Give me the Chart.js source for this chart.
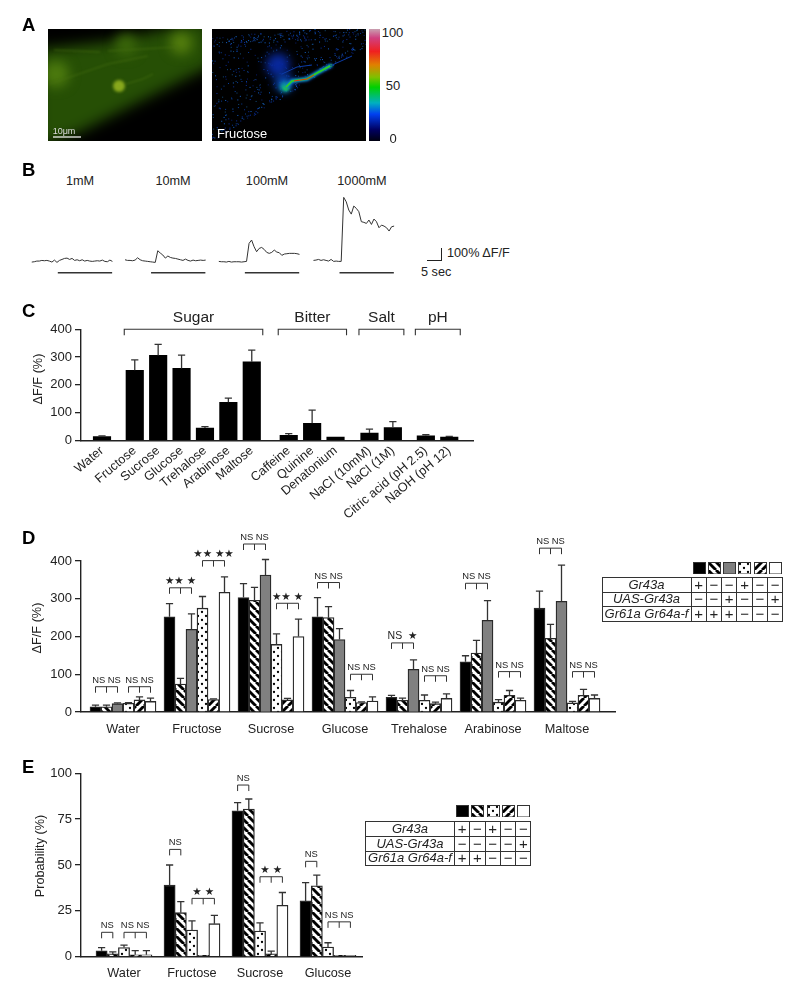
<!DOCTYPE html>
<html>
<head>
<meta charset="utf-8">
<script src="https://cdn.jsdelivr.net/npm/chart.js@4"></script>
<style>
    html, body { margin: 0; padding: 0; background: #fff; }
    #page { position: relative; width: 800px; height: 990px; overflow: hidden; font-family: "Liberation Sans", Arial, sans-serif; color: #222; }
    #page canvas { position: absolute; }
    .label { position: absolute; white-space: nowrap; transform: translate(-50%, -50%); }
    .letter { position: absolute; font-weight: bold; font-size: 18.5px; line-height: 18px; color: #000; }
    table { position: absolute; border-collapse: collapse; table-layout: fixed; }
    td { box-sizing: border-box; border: 1.4px solid #333; padding: 0; text-align: center; font-size: 15px; line-height: 12px; }
    td.name { font-style: italic; font-size: 13px; }
</style>
</head>
<body>
<div id="page"></div>
<script>
// Panel B traces (dF/F %, one sample every 0.9 sec)
const concentrations = ["1mM", "10mM", "100mM", "1000mM"]
const trace1mM = [-3, 0, 6, 6, 12, 9, 12, 6, -3, 15, -6, 12, 21, 30, 33, 21, 30, 12, 18, 9, 18, 6, 12, 6, 3, 6, 9, 6, 15, 3, 0, 15, 3]
const trace10mM = [18, 12, 12, 9, 15, 36, 18, 9, 6, 3, 0, -3, -6, 100, 79, 61, 33, 52, 39, 33, 30, 24, 18, 12, 24, 12, 6, 15, 9, 12, 15, 12, 15]
const trace100mM = [3, 0, 0, -3, 3, -3, 0, 0, 0, -3, 0, 3, 167, 197, 136, 91, 121, 130, 112, 85, 76, 85, 106, 88, 82, 58, 70, 73, 76, 76, 76, 73, 67]
const trace1000mM = [12, 15, 21, 12, 18, 12, 6, 21, 3, 6, 3, 3, 585, 545, 470, 433, 506, 485, 455, 364, 358, 348, 379, 339, 388, 364, 309, 333, 324, 309, 279, 318, 324]

// Panel C
const cCategories = ["Water", "Fructose", "Sucrose", "Glucose", "Trehalose", "Arabinose", "Maltose", "Caffeine", "Quinine", "Denatonium", "NaCl (10mM)", "NaCl (1M)", "Citric acid (pH 2.5)", "NaOH (pH 12)"]
const cValues = [13, 252, 306, 259, 44, 137, 283, 18, 61, 12, 26, 46, 16, 12]
const cUpper = [16, 290, 346, 307, 49, 152, 325, 24, 109, 13, 40, 67, 20, 14]
const cGroupNames = ["Sugar", "Bitter", "Salt", "pH"]
const cGroupFirst = [1, 7, 10, 12]
const cGroupLast = [6, 9, 11, 13]

// Panel D
const dCategories = ["Water", "Fructose", "Sucrose", "Glucose", "Trehalose", "Arabinose", "Maltose"]
const dValues = [
    [14, 252, 303, 252, 39, 133, 275],
    [14, 74, 296, 250, 31, 156, 195],
    [22, 219, 363, 192, 113, 243, 293],
    [23, 275, 179, 39, 31, 26, 24],
    [32, 33, 32, 25, 22, 44, 44],
    [28, 317, 200, 29, 36, 31, 36]
]
const dUpper = [
    [18, 287, 340, 303, 44, 149, 320],
    [18, 89, 330, 279, 37, 190, 232],
    [24, 260, 404, 221, 138, 295, 389],
    [25, 306, 207, 57, 45, 33, 28],
    [40, 35, 36, 27, 26, 57, 60],
    [37, 358, 246, 40, 48, 37, 45]
]
// category, first bar, last bar, height, label
const dBrackets = [
    [0, 0, 2, 67, "NS NS"], [0, 3, 5, 67, "NS NS"],
    [1, 0, 2, 329, "★★ ★"], [1, 3, 5, 401, "★★ ★★"],
    [2, 0, 2, 445, "NS NS"], [2, 3, 5, 288, "★★ ★"],
    [3, 0, 2, 343, "NS NS"], [3, 3, 5, 100, "NS NS"],
    [4, 0, 2, 183, "NS  ★"], [4, 3, 5, 96, "NS NS"],
    [5, 0, 2, 341, "NS NS"], [5, 3, 5, 107, "NS NS"],
    [6, 0, 2, 434, "NS NS"], [6, 3, 5, 107, "NS NS"]
]
const dRowNames = ["Gr43a", "UAS-Gr43a", "Gr61a Gr64a-f"]
const dRows = [
    ["+", "−", "−", "+", "−", "−"],
    ["−", "−", "+", "−", "−", "+"],
    ["+", "+", "+", "−", "−", "−"]
]

// Panel E
const eCategories = ["Water", "Fructose", "Sucrose", "Glucose"]
const eValues = [
    [3.2, 39, 79.6, 30.4],
    [1.5, 24, 80.5, 38.7],
    [5, 14.5, 14, 5.3],
    [1, 0.7, 1.5, 0.7],
    [1, 18, 28, 0.7]
]
const eUpper = [
    [5, 50, 84, 40.4],
    [2.6, 30, 86, 44.5],
    [6.3, 19.5, 18.4, 7.6],
    [3.3, 0.7, 3, 0.7],
    [3.3, 22.5, 35, 0.7]
]
const eBrackets = [
    [0, 0, 1, 13.3, "NS"], [0, 2, 4, 13.3, "NS NS"],
    [1, 0, 1, 58.5, "NS"], [1, 2, 4, 31.8, "★ ★"],
    [2, 0, 1, 93.6, "NS"], [2, 2, 4, 43.6, "★ ★"],
    [3, 0, 1, 52, "NS"], [3, 2, 4, 19, "NS NS"]
]
const eRowNames = ["Gr43a", "UAS-Gr43a", "Gr61a Gr64a-f"]
const eRows = [
    ["+", "−", "+", "−", "−"],
    ["−", "−", "−", "−", "+"],
    ["+", "+", "−", "−", "−"]
]

const page = document.getElementById("page")
const ink = "#222"
const fontFamily = '"Liberation Sans", Arial, sans-serif'
Chart.defaults.font.family = fontFamily
Chart.defaults.color = ink
Chart.defaults.animation = false

function addLabel(x, y, text, size, extra) {
    const el = document.createElement("div")
    el.className = "label"
    el.textContent = text
    el.style.left = x + "px"
    el.style.top = y + "px"
    el.style.fontSize = size + "px"
    if (extra) Object.assign(el.style, extra)
    page.appendChild(el)
    return el
}

function addLetter(text, y) {
    const el = document.createElement("div")
    el.className = "letter"
    el.textContent = text
    el.style.left = "22px"
    el.style.top = (y - 9) + "px"
    page.appendChild(el)
}

function addCanvas(left, top, width, height) {
    const canvas = document.createElement("canvas")
    canvas.width = width
    canvas.height = height
    canvas.style.left = left + "px"
    canvas.style.top = top + "px"
    page.appendChild(canvas)
    return canvas
}

// Bar fills
function tile(size, draw) {
    const c = document.createElement("canvas")
    c.width = c.height = size
    const g = c.getContext("2d")
    g.fillStyle = "#fff"
    g.fillRect(0, 0, size, size)
    draw(g)
    return document.createElement("canvas").getContext("2d").createPattern(c, "repeat")
}

function hatch(down) {
    return tile(8, (g) => {
        g.strokeStyle = "#000"
        g.lineWidth = 2.9
        for (let i = -8; i <= 8; i += 8) {
            g.beginPath()
            if (down) { g.moveTo(i, 0); g.lineTo(i + 8, 8) }
            else { g.moveTo(i, 8); g.lineTo(i + 8, 0) }
            g.stroke()
        }
    })
}

const stripeDown = hatch(true)
const stripeUp = hatch(false)
const dots = tile(8, (g) => {
    g.fillStyle = "#000"
    g.beginPath(); g.arc(2, 2, 1.15, 0, 7); g.fill()
    g.beginPath(); g.arc(6, 6, 1.15, 0, 7); g.fill()
})
const dFills = ["#000", stripeDown, "#808080", dots, stripeUp, "#fff"]
const eFills = ["#000", stripeDown, dots, stripeUp, "#fff"]

// Error bars, only the upper half like in the figure
const errorBars = {
    id: "errorBars",
    afterDatasetsDraw(chart) {
        const g = chart.ctx
        const y = chart.scales.y
        chart.data.datasets.forEach((set, d) => {
            chart.getDatasetMeta(d).data.forEach((bar, i) => {
                const top = y.getPixelForValue(set.upper[i])
                const base = y.getPixelForValue(set.data[i].y)
                if (base - top < 0.5) return
                g.strokeStyle = "#333"
                g.lineWidth = 1.3
                g.beginPath()
                g.moveTo(bar.x, base)
                g.lineTo(bar.x, top)
                g.moveTo(bar.x - 3.6, top)
                g.lineTo(bar.x + 3.6, top)
                g.stroke()
            })
        })
    }
}

// NS / star brackets over a few bars of one category
function bracketPlugin(list) {
    return {
        id: "brackets",
        afterDraw(chart) {
            const g = chart.ctx
            list.forEach(([cat, from, to, value, text]) => {
                const a = chart.getDatasetMeta(from).data[cat].x
                const b = chart.getDatasetMeta(to).data[cat].x
                const y = chart.scales.y.getPixelForValue(value)
                g.strokeStyle = "#333"
                g.lineWidth = 1
                g.beginPath()
                g.moveTo(a, y + 6); g.lineTo(a, y); g.lineTo(b, y); g.lineTo(b, y + 6)
                if (to - from == 2) {
                    g.moveTo((a + b) / 2, y); g.lineTo((a + b) / 2, y + 6)
                }
                g.stroke()
                g.fillStyle = ink
                g.textAlign = "center"
                g.textBaseline = "middle"
                const size = text.includes("★") ? 10.5 : 9.4
                g.font = size + 'px "Liberation Sans", "DejaVu Sans"'
                g.fillText(text, (a + b) / 2, y - 6.5)
            })
        }
    }
}

// Chart whose plot area lands on a fixed box of the page
function fixedBarChart(box, xs, names, datasets, yMax, yStep, extra) {
    const canvas = addCanvas(box.canvasLeft, box.canvasTop, box.canvasWidth, box.canvasHeight)
    const left = box.left - box.canvasLeft
    const top = box.top - box.canvasTop
    return new Chart(canvas, {
        type: "bar",
        data: { datasets: datasets },
        plugins: extra.plugins,
        options: {
            responsive: false,
            layout: { padding: { top: top, right: box.canvasWidth - (box.right - box.canvasLeft), left: 0, bottom: 0 } },
            plugins: { legend: { display: false }, tooltip: { enabled: false } },
            scales: {
                x: {
                    type: "linear",
                    offset: false,
                    min: (box.left - box.firstCenter) / box.pitch,
                    max: (box.right - box.firstCenter) / box.pitch,
                    grid: { display: false, offset: false, drawTicks: false },
                    border: { color: ink, width: 1.4 },
                    afterBuildTicks: (s) => { s.ticks = xs.map((v) => ({ value: v })) },
                    afterFit: (s) => { s.height = box.canvasHeight - (box.bottom - box.canvasTop) },
                    ticks: {
                        autoSkip: false,
                        maxRotation: extra.rotation,
                        minRotation: extra.rotation,
                        padding: extra.labelPadding,
                        font: { size: 12.7 },
                        callback: (v) => names[xs.indexOf(v)]
                    }
                },
                y: {
                    min: 0,
                    max: yMax,
                    grid: { drawOnChartArea: false, tickLength: 6, color: ink, lineWidth: 1.3 },
                    border: { color: ink, width: 1.4 },
                    afterFit: (s) => { s.width = left },
                    ticks: { stepSize: yStep, padding: 3, font: { size: 13 } }
                }
            }
        }
    })
}

function groupedSets(values, upper, fills, thickness) {
    return values.map((row, i) => ({
        data: row.map((v, c) => ({ x: c, y: v })),
        upper: upper[i],
        backgroundColor: fills[i],
        borderColor: "#2a2a2a",
        borderWidth: 1.3,
        barThickness: thickness
    }))
}

// ---- Panel C ----
// category spots, with a wider gap between the stimulus groups
const cGroupSizes = [1, 6, 3, 2, 2]
const cGaps = [0.4, 0.58, 0.45, 0.41, 0]
const cX = []
let spot = 0
cGroupSizes.forEach((size, g) => {
    for (let i = 0; i < size; i++) cX.push(spot++)
    spot += cGaps[g]
})

const groupBrackets = {
    id: "groupBrackets",
    afterDraw(chart) {
        const g = chart.ctx
        const x = chart.scales.x
        const y = chart.scales.y.getPixelForValue(400)
        cGroupNames.forEach((name, i) => {
            const a = x.getPixelForValue(cX[cGroupFirst[i]]) - 10.5
            const b = x.getPixelForValue(cX[cGroupLast[i]]) + 11
            g.strokeStyle = "#333"
            g.lineWidth = 1.1
            g.beginPath()
            g.moveTo(a, y + 6); g.lineTo(a, y); g.lineTo(b, y); g.lineTo(b, y + 6)
            g.stroke()
            g.fillStyle = ink
            g.font = "15.5px " + fontFamily
            g.textAlign = "center"
            g.textBaseline = "middle"
            g.fillText(name, (a + b) / 2, y - 11.5)
        })
    }
}

fixedBarChart(
    { canvasLeft: 0, canvasTop: 300, canvasWidth: 500, canvasHeight: 225, left: 81, right: 473, top: 329.3, bottom: 440.3, firstCenter: 102, pitch: 23.4 },
    cX, cCategories,
    [{
        data: cValues.map((v, i) => ({ x: cX[i], y: v })),
        upper: cUpper,
        backgroundColor: "#000",
        borderColor: "#000",
        borderWidth: 0,
        barThickness: 17.5
    }],
    400, 100,
    { plugins: [errorBars, groupBrackets], rotation: 40, labelPadding: 3 }
)

// ---- Panel D ----
fixedBarChart(
    { canvasLeft: 0, canvasTop: 530, canvasWidth: 640, canvasHeight: 215, left: 81, right: 615, top: 561, bottom: 712, firstCenter: 123, pitch: 74 },
    dCategories.map((n, i) => i), dCategories,
    groupedSets(dValues, dUpper, dFills, 11),
    400, 100,
    { plugins: [errorBars, bracketPlugin(dBrackets)], rotation: 0, labelPadding: 10 }
)

// ---- Panel E ----
fixedBarChart(
    { canvasLeft: 0, canvasTop: 760, canvasWidth: 400, canvasHeight: 225, left: 81, right: 362, top: 773.3, bottom: 956.7, firstCenter: 124, pitch: 68 },
    eCategories.map((n, i) => i), eCategories,
    groupedSets(eValues, eUpper, eFills, 11.2),
    100, 25,
    { plugins: [errorBars, bracketPlugin(eBrackets)], rotation: 0, labelPadding: 9 }
)

addLabel(38, 379, "ΔF/F (%)", 12.7, { transform: "translate(-50%, -50%) rotate(-90deg)" })
addLabel(37, 628, "ΔF/F (%)", 12.7, { transform: "translate(-50%, -50%) rotate(-90deg)" })
addLabel(40, 855.6, "Probability (%)", 12.7, { transform: "translate(-50%, -50%) rotate(-90deg)" })

// ---- Panel B ----
const traces = [trace1mM, trace10mM, trace100mM, trace1000mM]
const traceStart = [4.2, 37.5, 71, 104.8]   // sec on the shared axis
const sampleStep = 0.9
const stimOn = 9.3
const stimLength = 19.4
const traceSets = []
traces.forEach((trace, t) => {
    traceSets.push({
        data: trace.map((v, i) => ({ x: traceStart[t] + i * sampleStep, y: v })),
        borderColor: "#333",
        borderWidth: 1,
        pointRadius: 0,
        tension: 0
    })
    traceSets.push({
        data: [{ x: traceStart[t] + stimOn, y: -100 }, { x: traceStart[t] + stimOn + stimLength, y: -100 }],
        borderColor: "#333",
        borderWidth: 1.5,
        pointRadius: 0
    })
})
new Chart(addCanvas(20, 190, 380, 90), {
    type: "line",
    data: { datasets: traceSets },
    options: {
        responsive: false,
        layout: { padding: 0 },
        plugins: { legend: { display: false }, tooltip: { enabled: false } },
        scales: {
            x: { type: "linear", display: false, min: 0, max: 135.7 },
            y: { display: false, min: -166, max: 652 }
        }
    }
})
const titleX = [80, 173, 267, 362]
concentrations.forEach((c, i) => addLabel(titleX[i], 181, c, 12.7))
// scale bar
const barV = document.createElement("div")
barV.style.cssText = "position:absolute;left:427px;top:248px;width:14px;height:11.5px;border-right:1.2px solid #222;border-bottom:1.2px solid #222"
page.appendChild(barV)
addLabel(447, 253, "100% ΔF/F", 12.7, { transform: "translate(0, -50%)" })
addLabel(421, 271.7, "5 sec", 12.7, { transform: "translate(0, -50%)" })

// ---- Panel A, the two micrographs and the colour bar ----
function drawGreenImage() {
    const c = addCanvas(48, 29, 154, 112)
    const g = c.getContext("2d")
    g.fillStyle = "#000"
    g.fillRect(0, 0, 154, 112)
    g.filter = "blur(7px)"
    g.fillStyle = "#264f05"
    g.beginPath()
    g.moveTo(-10, 20); g.lineTo(65, 12); g.lineTo(160, -10); g.lineTo(165, 36)
    g.lineTo(85, 76); g.lineTo(30, 104); g.lineTo(-10, 118)
    g.closePath(); g.fill()
    const blob = (x, y, r, col) => {
        g.fillStyle = col
        g.beginPath(); g.arc(x, y, r, 0, 7); g.fill()
    }
    g.filter = "blur(6px)"
    blob(8, 45, 13, "#4c7a0e")
    blob(133, 14, 11, "#557f0e")
    blob(78, 16, 11, "#3a660a")
    g.filter = "blur(1.5px)"
    blob(71, 57, 6, "#88a81c")
    g.filter = "blur(0.8px)"
    g.strokeStyle = "#477012"
    g.lineWidth = 0.8
    g.beginPath()
    g.moveTo(6, 21); g.lineTo(52, 23)
    g.moveTo(2, 55); g.lineTo(60, 35); g.lineTo(100, 27)
    g.moveTo(78, 55); g.lineTo(95, 50); g.lineTo(105, 45)
    g.moveTo(60, 22); g.lineTo(130, 18)
    g.stroke()
    g.filter = "none"
    g.strokeStyle = "#fff"
    g.lineWidth = 1.2
    g.beginPath(); g.moveTo(5, 108); g.lineTo(33, 108); g.stroke()
    addLabel(64, 131, "10μm", 9, { color: "#ddd" })
}

function drawBlueImage() {
    const c = addCanvas(212, 29, 154, 112)
    const g = c.getContext("2d")
    g.fillStyle = "#000"
    g.fillRect(0, 0, 154, 112)
    // speckle along the two edges of the leg, a small hash keeps it the same every run
    const hash = (n) => { const v = Math.sin(n * 12.9898) * 43758.5453; return v - Math.floor(v) }
    const palette = ["#0b2f9c", "#0a1f70", "#1560c8", "#0a3f9a", "#144a78"]
    for (let i = 0; i < 6000; i++) {
        const x = hash(i) * 154
        const y = hash(i + 0.37) * 112
        const upper = 14 - x * 0.09
        const lower = 108 - x * 0.62
        const nearEdge = Math.abs(y - upper) < 6 || Math.abs(y - lower) < 4
        const inside = y > upper && y < lower
        if ((nearEdge && i % 3 == 0) || (inside && i % 9 == 0)) {
            g.fillStyle = palette[i % 5]
            g.fillRect(x, y, 1, 1)
        }
    }
    const blob = (x, y, r, col, blur) => {
        g.filter = "blur(" + blur + "px)"
        g.fillStyle = col
        g.beginPath(); g.arc(x, y, r, 0, 7); g.fill()
    }
    blob(66, 36, 12, "#08289c", 5)
    blob(72, 54, 9, "#0a46b8", 4)
    blob(73, 58, 5, "#10a8a0", 2)
    blob(74, 59, 2.5, "#20d040", 1)
    const nerve = (col, w, blur) => {
        g.filter = "blur(" + blur + "px)"
        g.strokeStyle = col
        g.lineWidth = w
        g.beginPath()
        g.moveTo(74, 58); g.lineTo(80, 52); g.lineTo(95, 50); g.lineTo(105, 44)
        g.lineTo(120, 36); g.stroke()
    }
    nerve("#0c50d0", 4, 1.5)
    nerve("#10b8a0", 2.4, 0.8)
    nerve("#30d020", 1.6, 0.4)
    g.filter = "blur(0.4px)"
    g.strokeStyle = "#e03010"
    g.lineWidth = 1
    g.beginPath(); g.moveTo(82, 52); g.lineTo(95, 50); g.lineTo(102, 46); g.stroke()
    g.strokeStyle = "#0c3ca8"
    g.lineWidth = 1
    g.beginPath(); g.moveTo(118, 37); g.lineTo(140, 27); g.stroke()
    g.beginPath(); g.moveTo(70, 45); g.lineTo(85, 38); g.lineTo(100, 36); g.stroke()
    g.filter = "none"
    addLabel(242, 133, "Fructose", 12.9, { color: "#fff" })
}

function drawColourBar() {
    const c = addCanvas(369, 29, 11, 112)
    const g = c.getContext("2d")
    const grad = g.createLinearGradient(0, 0, 0, 112)
    const stops = [[0, "#c8a0b0"], [0.08, "#d04080"], [0.2, "#f02020"], [0.32, "#e08000"], [0.43, "#80c000"], [0.52, "#00d000"], [0.66, "#00b0c0"], [0.76, "#0040f0"], [0.9, "#000060"], [1, "#000010"]]
    stops.forEach((s) => grad.addColorStop(s[0], s[1]))
    g.fillStyle = grad
    g.fillRect(0, 0, 11, 112)
    addLabel(392.5, 32, "100", 13)
    addLabel(393, 85, "50", 13)
    addLabel(393, 138, "0", 13)
}

drawGreenImage()
drawBlueImage()
drawColourBar()

// ---- Genotype tables ----
function addSwatches(fills, left, top) {
    fills.forEach((fill, i) => {
        const c = addCanvas(left + i * 15.3, top, 13, 12.5)
        const g = c.getContext("2d")
        g.fillStyle = fill
        g.fillRect(0, 0, 13, 12.5)
        g.strokeStyle = "#333"
        g.lineWidth = 1
        g.strokeRect(0.5, 0.5, 12, 11.5)
    })
}

function addTable(names, rows, left, top, nameWidth, cellWidth, rowHeight) {
    const table = document.createElement("table")
    table.style.left = left + "px"
    table.style.top = top + "px"
    table.style.width = nameWidth + cellWidth * rows[0].length + "px"
    names.forEach((name, r) => {
        const tr = document.createElement("tr")
        tr.style.height = rowHeight + "px"
        const th = document.createElement("td")
        th.className = "name"
        th.textContent = name
        th.style.width = nameWidth + "px"
        tr.appendChild(th)
        rows[r].forEach((sign) => {
            const td = document.createElement("td")
            td.textContent = sign
            td.style.width = cellWidth + "px"
            tr.appendChild(td)
        })
        table.appendChild(tr)
    })
    page.appendChild(table)
}

addSwatches(dFills, 692.5, 561.5)
addTable(dRowNames, dRows, 601.5, 577, 89, 15.3, 14.6)
addSwatches(eFills, 456, 805)
addTable(eRowNames, eRows, 365, 821, 89, 15.3, 14.8)

addLetter("A", 25)
addLetter("B", 170)
addLetter("C", 311)
addLetter("D", 537.7)
addLetter("E", 766.7)
</script>
</body>
</html>
